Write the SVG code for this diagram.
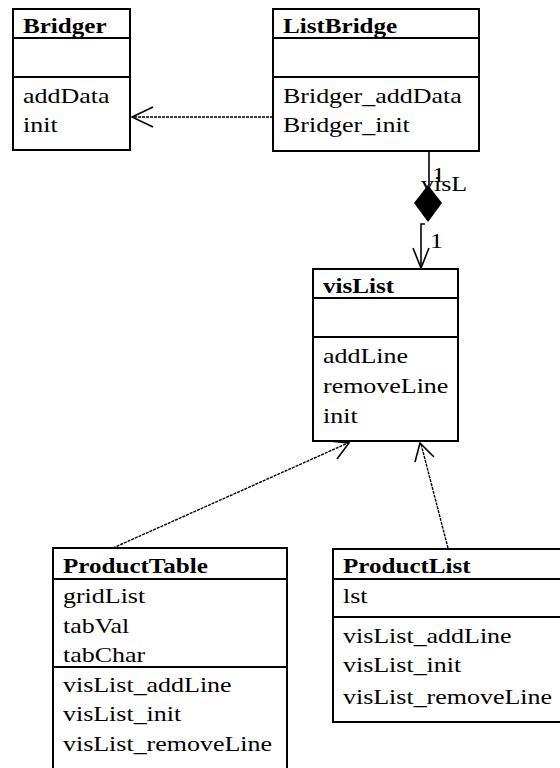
<svg xmlns="http://www.w3.org/2000/svg" width="560" height="768" viewBox="0 0 560 768">
  <style>
    .box { fill: #ffffff; stroke: #000000; stroke-width: 2; }
    .sep { stroke: #000000; stroke-width: 2; }
    .t { font-family: "Liberation Serif", "Times New Roman", serif; font-size: 22px; fill: #000000; }
    .b { font-weight: bold; }
    .dash { fill: none; stroke: #000000; stroke-width: 1.4; stroke-dasharray: 3 1; }
    .solid { fill: none; stroke: #000000; stroke-width: 1.6; }
    .head { fill: none; stroke: #000000; stroke-width: 1.6; }
  </style>
  <rect width="560" height="768" fill="#ffffff"/>

  <!-- connectors -->
  <g id="connectors">
    <!-- ListBridge depends on Bridger -->
    <line class="dash" x1="273" y1="117" x2="132" y2="117"/>
    <polyline class="head" points="153,107 132,117 153,127"/>

    <!-- ListBridge composition of visList -->
    <line class="solid" x1="429" y1="151" x2="429" y2="186"/>
    <polygon points="428,185 442,203 428,222 414,203" fill="#000000"/>
    <polyline class="solid" points="425,224 421,224 421,268"/>
    <polyline class="head" points="413,248 421,268 429,248"/>
    <text class="t" transform="translate(421,191) scale(1.18,1)">visL</text>
    <text class="t" transform="translate(432,182) scale(1.18,1)">1</text>
    <text class="t" transform="translate(430,248) scale(1.18,1)">1</text>

    <!-- ProductTable realizes visList -->
    <line class="dash" x1="113" y1="548" x2="348" y2="443"/>
    <polyline class="head" points="329,441 349,443 337,459"/>

    <!-- ProductList realizes visList -->
    <line class="dash" x1="448" y1="548" x2="421" y2="444"/>
    <polyline class="head" points="415,462 420,443 434,457"/>
  </g>

  <!-- Bridger -->
  <g id="Bridger">
    <rect class="box" x="13" y="9" width="117" height="141"/>
    <line class="sep" x1="13" y1="38" x2="130" y2="38"/>
    <line class="sep" x1="13" y1="77" x2="130" y2="77"/>
    <text class="t b" transform="translate(23,33) scale(1.14,1)">Bridger</text>
    <text class="t" transform="translate(23,103) scale(1.18,1)">addData</text>
    <text class="t" transform="translate(23,132) scale(1.18,1)">init</text>
  </g>

  <!-- ListBridge -->
  <g id="ListBridge">
    <rect class="box" x="273" y="9" width="206" height="142"/>
    <line class="sep" x1="273" y1="38" x2="479" y2="38"/>
    <line class="sep" x1="273" y1="77" x2="479" y2="77"/>
    <text class="t b" transform="translate(283,33) scale(1.14,1)">ListBridge</text>
    <text class="t" transform="translate(283,103) scale(1.18,1)">Bridger_addData</text>
    <text class="t" transform="translate(283,132) scale(1.18,1)">Bridger_init</text>
  </g>

  <!-- visList -->
  <g id="visList">
    <rect class="box" x="313" y="269" width="145" height="172"/>
    <line class="sep" x1="313" y1="298" x2="458" y2="298"/>
    <line class="sep" x1="313" y1="337" x2="458" y2="337"/>
    <text class="t b" transform="translate(323,293) scale(1.14,1)">visList</text>
    <text class="t" transform="translate(323,363) scale(1.18,1)">addLine</text>
    <text class="t" transform="translate(323,393) scale(1.18,1)">removeLine</text>
    <text class="t" transform="translate(323,423) scale(1.18,1)">init</text>
  </g>

  <!-- ProductTable -->
  <g id="ProductTable">
    <rect class="box" x="53" y="548" width="234" height="230"/>
    <line class="sep" x1="53" y1="579" x2="287" y2="579"/>
    <line class="sep" x1="53" y1="667" x2="287" y2="667"/>
    <text class="t b" transform="translate(63,573) scale(1.14,1)">ProductTable</text>
    <text class="t" transform="translate(63,603) scale(1.18,1)">gridList</text>
    <text class="t" transform="translate(63,633) scale(1.18,1)">tabVal</text>
    <text class="t" transform="translate(63,662) scale(1.18,1)">tabChar</text>
    <text class="t" transform="translate(63,692) scale(1.18,1)">visList_addLine</text>
    <text class="t" transform="translate(63,721) scale(1.18,1)">visList_init</text>
    <text class="t" transform="translate(63,751) scale(1.18,1)">visList_removeLine</text>
  </g>

  <!-- ProductList -->
  <g id="ProductList">
    <rect class="box" x="333" y="549" width="232" height="173"/>
    <line class="sep" x1="333" y1="579" x2="565" y2="579"/>
    <line class="sep" x1="333" y1="617" x2="565" y2="617"/>
    <text class="t b" transform="translate(343,573) scale(1.14,1)">ProductList</text>
    <text class="t" transform="translate(343,603) scale(1.18,1)">lst</text>
    <text class="t" transform="translate(343,643) scale(1.18,1)">visList_addLine</text>
    <text class="t" transform="translate(343,672) scale(1.18,1)">visList_init</text>
    <text class="t" transform="translate(343,704) scale(1.18,1)">visList_removeLine</text>
  </g>
</svg>
